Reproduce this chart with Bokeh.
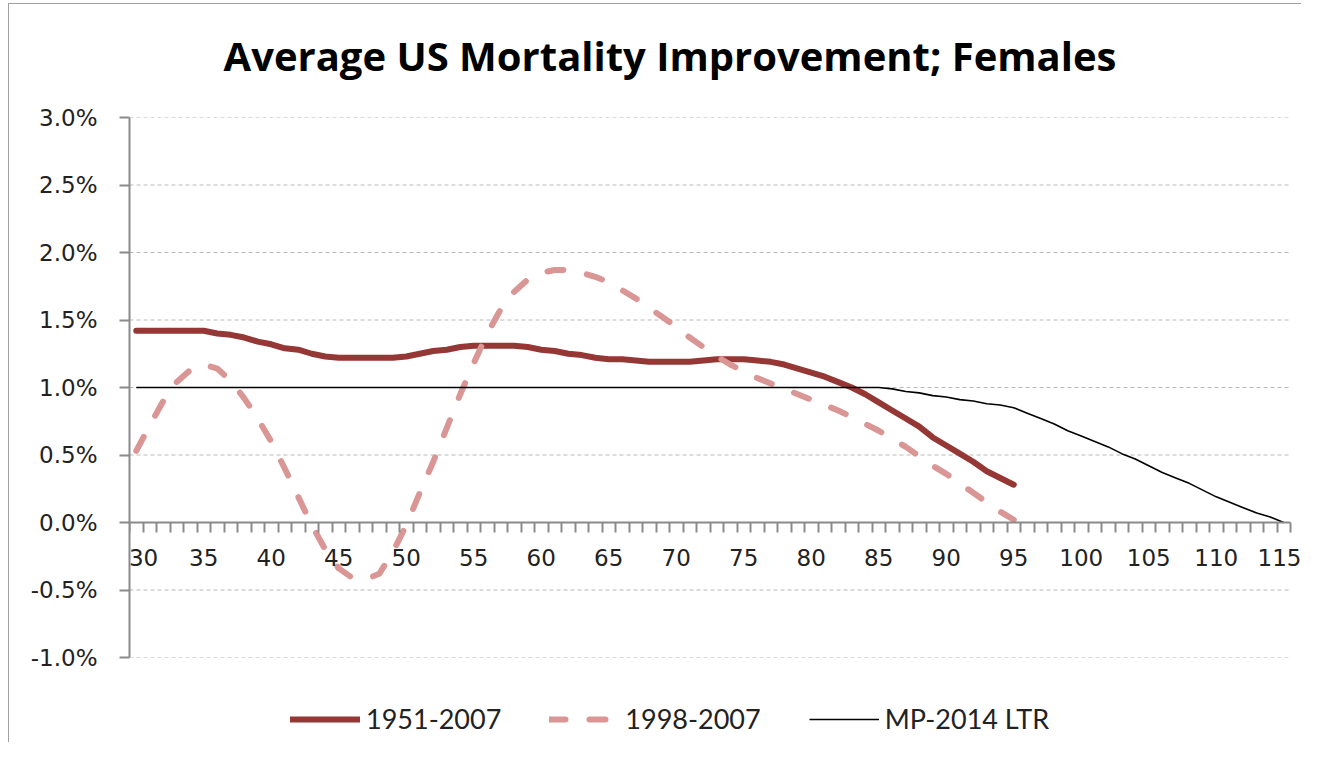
from bokeh.plotting import figure
from bokeh.layouts import column
from bokeh.models import (Range1d, FixedTicker, PrintfTickFormatter, Legend, LegendItem, Label)
from bokeh.embed import file_html
from bokeh.resources import INLINE

# ---- data (values in percent) ----
chart_title = "Average US Mortality Improvement; Females"

ages_1951 = list(range(30, 96))
imp_1951_2007 = [1.42, 1.42, 1.42, 1.42, 1.42, 1.42, 1.40, 1.39, 1.37, 1.34,
                 1.32, 1.29, 1.28, 1.25, 1.23, 1.22, 1.22, 1.22, 1.22, 1.22,
                 1.23, 1.25, 1.27, 1.28, 1.30, 1.31, 1.31, 1.31, 1.31, 1.30,
                 1.28, 1.27, 1.25, 1.24, 1.22, 1.21, 1.21, 1.20, 1.19, 1.19,
                 1.19, 1.19, 1.20, 1.21, 1.21, 1.21, 1.20, 1.19, 1.17, 1.14,
                 1.11, 1.08, 1.04, 1.00, 0.95, 0.89, 0.83, 0.77, 0.71, 0.63,
                 0.57, 0.51, 0.45, 0.38, 0.33, 0.28]

ages_1998 = list(range(30, 96))
imp_1998_2007 = [0.53, 0.72, 0.90, 1.04, 1.13, 1.17, 1.14, 1.05, 0.92, 0.77,
                 0.60, 0.40, 0.19, -0.02, -0.20, -0.34, -0.41, -0.42, -0.38, -0.22,
                 -0.02, 0.22, 0.45, 0.70, 0.95, 1.18, 1.40, 1.58, 1.71, 1.80,
                 1.85, 1.87, 1.87, 1.85, 1.82, 1.78, 1.72, 1.66, 1.59, 1.52,
                 1.45, 1.37, 1.30, 1.23, 1.17, 1.12, 1.07, 1.03, 0.99, 0.95,
                 0.91, 0.87, 0.83, 0.78, 0.73, 0.68, 0.62, 0.56, 0.49, 0.42,
                 0.36, 0.29, 0.22, 0.15, 0.08, 0.02]

ages_mp = list(range(30, 116))
imp_mp2014 = [1.00] * 56 + [0.99, 0.97, 0.96, 0.94, 0.93, 0.91, 0.90, 0.88, 0.87, 0.85,
                            0.81, 0.77, 0.73, 0.68, 0.64, 0.60, 0.56, 0.51, 0.47, 0.42,
                            0.37, 0.33, 0.29, 0.24, 0.19, 0.15, 0.11, 0.07, 0.04, 0.00]

x_labels = list(range(30, 116, 5))
y_ticks = [-1.0, -0.5, 0.0, 0.5, 1.0, 1.5, 2.0, 2.5, 3.0]
series_names = ["1951-2007", "1998-2007", "MP-2014 LTR"]

# ---- layout constants ----
W = 1301
H_TITLE, H_MAIN, H_LEG = 90, 610, 42
LEFT, TOP, BOTTOM = 129, 27, 43
PLOT_RIGHT = 1290                      # where the category axis ends
x_lo, x_hi = 29.5, 115.5               # categories 30..115, between tick marks
px_per_unit = (PLOT_RIGHT - LEFT) / (x_hi - x_lo)
x_frame_hi = x_lo + (W - LEFT) / px_per_unit   # frame runs to canvas edge so "115" is not clipped

styles = dict(
    s1=dict(line_color="#953735", line_width=6, line_cap="round", line_join="round"),
    s2=dict(line_color="#d99694", line_width=6, line_cap="round", line_join="round",
            line_dash="16 24"),
    s3=dict(line_color="black", line_width=1.6),
)


def strip(height):
    f = figure(width=W, height=height, output_backend="svg", toolbar_location=None,
               x_range=Range1d(0, W - LEFT), y_range=Range1d(0, height),
               min_border=0, min_border_left=0, min_border_right=0,
               min_border_top=0, min_border_bottom=0)
    f.axis.visible = False
    f.grid.visible = False
    f.outline_line_color = None
    f.background_fill_color = None
    f.border_fill_color = None
    return f


# ---- title strip ----
tf = strip(H_TITLE)
tf.add_layout(Label(x=540.5, y=H_TITLE - 55, text=chart_title, text_align="center",
                    text_baseline="middle", text_font="Open Sans",
                    text_font_style="bold", text_font_size="40px", text_color="black"))

# ---- main chart ----
p = figure(width=W, height=H_MAIN, output_backend="svg", toolbar_location=None,
           x_range=Range1d(x_lo, x_frame_hi), y_range=Range1d(-1.0, 3.0),
           min_border_left=LEFT, min_border_right=0, min_border_top=TOP,
           min_border_bottom=BOTTOM)
p.outline_line_color = None
p.background_fill_color = "white"
p.border_fill_color = None

axis_gray = "#8a8a8a"
grid_gray = "#b8b8b8"

# horizontal gridlines, spanning only the category axis extent
p.xgrid.grid_line_color = None
p.ygrid.grid_line_color = None
p.segment(x0=[x_lo] * len(y_ticks), x1=[x_hi] * len(y_ticks), y0=y_ticks, y1=y_ticks,
          line_color=grid_gray, line_dash="4 3", line_width=1)

# x axis crossing at 0
xa = p.xaxis[0]
xa.fixed_location = 0
xa.bounds = (x_lo, x_hi)
xa.ticker = FixedTicker(ticks=x_labels, minor_ticks=[a - 0.5 for a in range(30, 117)])
xa.axis_line_color = axis_gray
xa.axis_line_width = 2
xa.major_tick_out = 0
xa.major_tick_in = 0
xa.minor_tick_out = 10
xa.minor_tick_in = 0
xa.minor_tick_line_color = axis_gray
xa.minor_tick_line_width = 2
xa.major_label_text_font = "DejaVu Sans"
xa.major_label_text_font_size = "23px"
xa.major_label_text_color = "#222222"
xa.major_label_standoff = 12
xa.major_label_overrides = {30: "\u00a0\u00a030"}

ya = p.yaxis[0]
ya.ticker = FixedTicker(ticks=y_ticks, minor_ticks=[])
ya.formatter = PrintfTickFormatter(format="%.1f%%")
ya.axis_line_color = axis_gray
ya.axis_line_width = 2
ya.major_tick_out = 10
ya.major_tick_in = 0
ya.major_tick_line_color = axis_gray
ya.major_tick_line_width = 2
ya.minor_tick_out = 0
ya.minor_tick_in = 0
ya.major_label_text_font = "DejaVu Sans"
ya.major_label_text_font_size = "23px"
ya.major_label_text_color = "#222222"
ya.major_label_standoff = 22

p.line(ages_1951, imp_1951_2007, **styles["s1"])
p.line(ages_1998, imp_1998_2007, **styles["s2"])
p.line(ages_mp, imp_mp2014, **styles["s3"])

# ---- legend strip below the chart (same series, off-frame so only the keys show) ----
lf = strip(H_LEG)
lf.x_range = Range1d(0, 1)
lf.y_range = Range1d(0, 1)
lr1 = lf.line(ages_1951, imp_1951_2007, **styles["s1"])
lr2 = lf.line(ages_1998, imp_1998_2007, **styles["s2"])
lr3 = lf.line(ages_mp, imp_mp2014, **styles["s3"])

legend = Legend(items=[LegendItem(label=series_names[0], renderers=[lr1]),
                       LegendItem(label=series_names[1], renderers=[lr2]),
                       LegendItem(label=series_names[2], renderers=[lr3])],
                orientation="horizontal",
                glyph_width=70, glyph_height=20, label_standoff=6, spacing=48,
                padding=0, margin=0, border_line_color=None,
                background_fill_alpha=0,
                label_text_font="Lato", label_text_font_size="27px",
                label_text_color="#222222")
legend.location = (161, 7)
lf.add_layout(legend, "center")

layout = column(tf, p, lf, spacing=0, styles={
    "background-color": "white",
    "background-image": "linear-gradient(#a0a0a0, #a0a0a0), linear-gradient(#a0a0a0, #a0a0a0)",
    "background-position": "8px 3px, 8px 3px",
    "background-size": "1px 760px, 1400px 1px",
    "background-repeat": "no-repeat, no-repeat",
})

open("out.html", "w").write(file_html(layout, INLINE))
